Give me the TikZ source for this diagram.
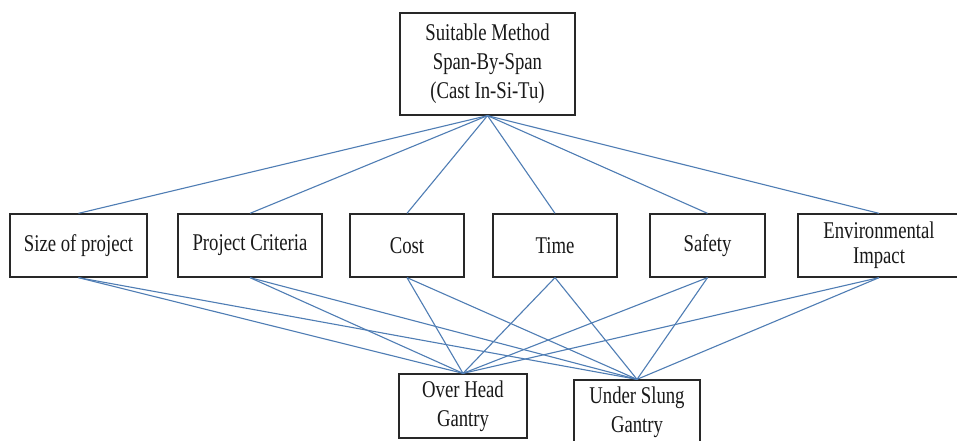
\documentclass[tikz,border=0pt]{standalone}
\usepackage{fontspec}
\setmainfont{Liberation Serif}[FakeStretch=0.78]
\definecolor{linkblue}{RGB}{79,125,180}
\definecolor{boxline}{RGB}{40,40,40}
\tikzset{
  box/.style={draw=boxline, line width=1.3pt, fill=white, inner sep=0pt,
    align=center, font=\fontsize{24}{29}\selectfont, text=black!90},
  link/.style={draw=linkblue, line width=1.1pt},
}
\begin{document}
\begin{tikzpicture}[x=1pt, y=-1pt]
\useasboundingbox (0,0) rectangle (957,441);
\fill[white] (0,0) rectangle (957,441);

% goal
\node[box, minimum width=175pt, minimum height=102pt] (goal) at (487.5,64)
  {Suitable Method\\Span-By-Span\\(Cast In-Si-Tu)};

% criteria
\node[box, minimum width=137pt, minimum height=63pt] (size) at (78.5,245.5) {Size of project};
\node[box, minimum width=144pt, minimum height=63pt] (crit) at (250,245.5) {Project Criteria};
\node[box, minimum width=114pt, minimum height=63pt] (cost) at (407,245.5) {Cost};
\node[box, minimum width=124pt, minimum height=63pt] (time) at (555,245.5) {Time};
\node[box, minimum width=115pt, minimum height=63pt] (safe) at (707.5,245.5) {Safety};
\node[box, minimum width=162pt, minimum height=63pt, font=\fontsize{24}{25}\selectfont] (env) at (879,245.5) {Environmental\\Impact};

% alternatives
\node[box, minimum width=128pt, minimum height=64pt] (ohg) at (463,406) {Over Head\\Gantry};
\node[box, minimum width=126pt, minimum height=64pt] (usg) at (637,412) {Under Slung\\Gantry};

% links goal -> criteria
\begin{scope}[on background layer/.try]
\foreach \c in {size,crit,cost,time,safe,env}
  \draw[link] (goal.south) -- (\c.north);
\end{scope}

% links criteria -> alternatives
\foreach \c in {size,crit,cost,time,safe,env} {
  \draw[link] (\c.south) -- (ohg.north);
  \draw[link] (\c.south) -- (usg.north);
}
\end{tikzpicture}
\end{document}
